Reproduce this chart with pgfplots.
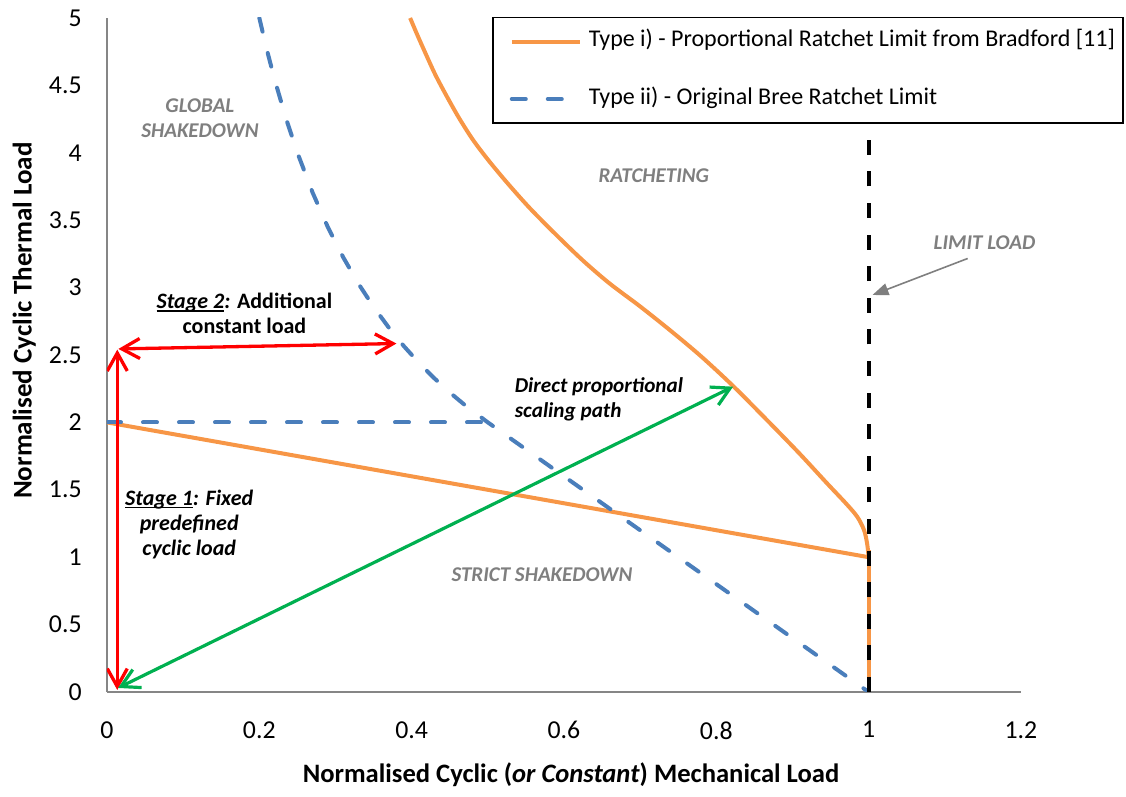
\documentclass[border=0pt]{standalone}
\usepackage{fontspec}
\setmainfont{Carlito}
\usepackage{pgfplots}
\pgfplotsset{compat=1.18}
\usetikzlibrary{arrows.meta}
\definecolor{orng}{HTML}{F79646}
\definecolor{bblue}{HTML}{4A7EBB}
\definecolor{grn}{HTML}{00B050}
\definecolor{axgray}{HTML}{868686}
\definecolor{txtgray}{HTML}{7F7F7F}
\newcommand\regfont{\bfseries\itshape\fontsize{10.5}{12.5}\selectfont}
\newcommand\annfont{\bfseries\fontsize{11}{12.5}\selectfont}
\newcommand\ul[1]{\setbox0\hbox{#1}\rlap{\rule[-1.6pt]{\wd0}{0.7pt}}\box0}
\begin{document}
\begin{tikzpicture}
\begin{axis}[
  scale only axis, width=457pt, height=337pt,
  xmin=0, xmax=1.2, ymin=0, ymax=5,
  clip mode=individual,
  xtick={0,0.2,0.4,0.6,0.8,1,1.2},
  ytick={0,0.5,1,1.5,2,2.5,3,3.5,4,4.5,5},
  axis x line*=bottom, axis y line*=left,
  axis line style={axgray, line width=1pt},
  major tick length=0pt,
  /pgf/number format/assume math mode=true,
  ticklabel style={font=\fontsize{12.9}{15}\selectfont},
  xticklabel style={inner sep=0pt, anchor=north, yshift=-14.5pt},
  yticklabel style={inner sep=0pt, anchor=east, xshift=-12.5pt},
  every axis y label/.style={at={([xshift=-37.65pt]axis description cs:0,0.551)}, rotate=90, anchor=base, font=\bfseries\fontsize{13.5}{16}\selectfont},
  every axis x label/.style={at={([xshift=3.5pt,yshift=-45.5pt]axis description cs:0.5,0)}, anchor=base, font=\bfseries\fontsize{13.3}{16}\selectfont},
  xlabel={Normalised Cyclic (\textit{or Constant}) Mechanical Load},
  ylabel={Normalised Cyclic Thermal Load},
  legend style={at={(axis description cs:0.4212,1.002)}, anchor=north west, draw=black, line width=0.8pt, fill=white,
    font=\fontsize{12}{14}\selectfont, inner xsep=4pt, inner ysep=7.6pt, row sep=19.7pt,
    nodes={inner sep=0pt, text height=0.7em, text depth=0.2em}},
  legend cell align=left,
  legend image code/.code={\path[draw=none,fill=none] (0pt,0pt) -- (44pt,0pt); \draw[#1] (5.5pt,0pt) -- (39.5pt,0pt);},
]
% Type i) Bradford: shakedown line
\addplot[orng, line width=2pt] coordinates {(0,2) (1,1)};
\addlegendentry{Type i) - Proportional Ratchet Limit from Bradford [11]}
% Type ii) Bree: shakedown line
\addplot[bblue, line width=2pt, line cap=round, dash pattern=on 7pt off 11pt] coordinates {(0,2) (0.5,2)};
\addlegendentry{Type ii) - Original Bree Ratchet Limit}
% Bradford ratchet limit
\addplot[orng, line width=2pt, line join=round, smooth, tension=0.5, forget plot] coordinates {
(0.398,5.0) (0.407,4.88) (0.418,4.74) (0.431,4.58) (0.446,4.42) (0.462,4.26) (0.48,4.1)
(0.50,3.95) (0.525,3.78) (0.555,3.59) (0.59,3.39) (0.625,3.2) (0.66,3.03) (0.70,2.86)
(0.74,2.68) (0.78,2.49) (0.822,2.27) (0.866,2.02) (0.909,1.77) (0.945,1.55) (0.97,1.40)
(0.985,1.30) (0.994,1.2) (0.998,1.1) (1,1.0)};
\addplot[orng, line width=2pt, forget plot] coordinates {(1,1.05) (1,0)};
% Bree ratchet limit
\addplot[bblue, line width=2pt, line cap=round, dash pattern=on 7pt off 11pt, forget plot] coordinates {
(0.2,5) (0.21,4.762) (0.22,4.545) (0.235,4.255) (0.25,4) (0.27,3.704) (0.29,3.448)
(0.31,3.226) (0.33,3.030) (0.35,2.857) (0.37,2.703) (0.39,2.564) (0.41,2.439)
(0.43,2.326) (0.45,2.222) (0.47,2.128) (0.5,2) (1,0)};
% limit load
\addplot[black, line width=2pt, dash pattern=on 7.5pt off 8.3pt, forget plot] coordinates {(1,0) (1,5)};
% arrows
\addplot[red, line width=1.65pt, <->, >={Straight Barb[length=9pt,width=10pt]}, forget plot] coordinates {(0.015,2.545) (0.380,2.585)};
\addplot[red, line width=1.65pt, <->, >={Straight Barb[length=9pt,width=10pt]}, forget plot] coordinates {(0.0135,2.54) (0.0135,0.015)};
\addplot[grn, line width=1.6pt, <->, >={Straight Barb[length=9pt,width=10pt]}, forget plot] coordinates {(0.0145,0.03) (0.822,2.265)};
\addplot[txtgray, line width=0.8pt, -{Triangle[length=8pt,width=6pt]}, forget plot] coordinates {(1.130,3.216) (1.005,2.945)};
% texts
\node[font=\regfont, text=txtgray, align=center] at (axis cs:0.122,4.254) {GLOBAL\\SHAKEDOWN};
\node[font=\regfont, text=txtgray] at (axis cs:0.718,3.83) {RATCHETING};
\node[font=\regfont, text=txtgray] at (axis cs:0.571,0.868) {STRICT SHAKEDOWN};
\node[font=\regfont, text=txtgray] at (axis cs:1.152,3.33) {LIMIT LOAD};
\node[font=\annfont, align=center] at (axis cs:0.1804,2.81) {\ul{\textit{Stage 2}}\textit{:} Additional\\constant load};
\node[font=\annfont\itshape, align=center] at (axis cs:0.108,1.246) {\ul{Stage 1}: Fixed\\predefined\\cyclic load};
\node[font=\bfseries\itshape\fontsize{10.6}{12.6}\selectfont, align=left, anchor=west, inner sep=0pt] at (axis cs:0.535,2.17) {Direct proportional\\scaling path};
\end{axis}
\pgfresetboundingbox
\path (current axis.south west) ++(-53.5pt,-52.5pt) rectangle ++(563pt,398.5pt);
\end{tikzpicture}
\end{document}
